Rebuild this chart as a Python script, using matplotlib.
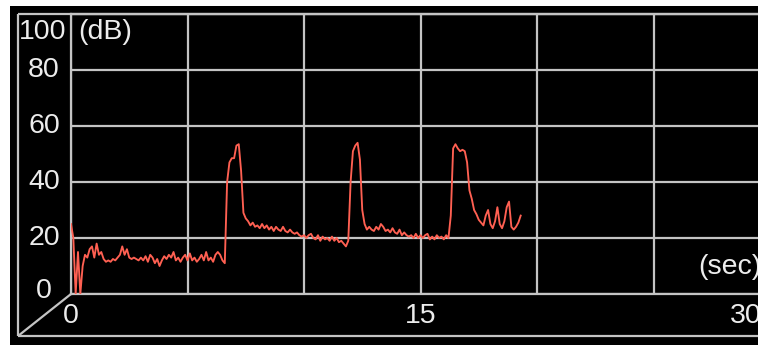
import numpy as np
import matplotlib
matplotlib.use("Agg")
import matplotlib.pyplot as plt
from matplotlib.lines import Line2D
from matplotlib import transforms as mtransforms

# ---- data ----
SAMPLE_PERIOD = 0.1  # seconds between readings
level_db = [
    25, 20, 0, 15, 0, 10, 14, 13, 16, 17, 13, 18, 14, 15, 12.5, 11.5, 12, 11.5, 12.5, 12,
    13, 14, 17, 14, 16, 13, 12.5, 13, 12.5, 12, 13, 12, 13.5, 11.5, 14, 13, 11, 12.5, 10, 12,
    13.5, 12.5, 14, 13, 15, 12, 13, 11.5, 13, 14, 12, 14.5, 12, 13, 11.5, 12.5, 14, 12, 15, 12,
    13, 11.5, 14, 15, 14, 12, 11, 40, 47, 48.5, 48.5, 53, 53.5, 44, 29, 27, 26, 24.5, 25.5, 24,
    24.5, 23.5, 25, 23.5, 24.5, 23, 24, 22.5, 24, 23, 22.5, 24, 22.5, 22, 23, 22, 21.5, 22, 21, 20.5,
    21, 20, 21, 21.5, 20, 19.5, 21, 19, 20.5, 19.5, 20, 19, 20.5, 19, 20, 18.5, 19, 18, 17, 19,
    40, 51, 53, 54, 48, 30, 25, 23, 24, 23, 22.5, 24, 23, 25, 24, 22.5, 23, 22, 23.5, 22,
    21.5, 23, 21, 22, 21, 20.5, 21, 20, 21.5, 20, 21, 20, 21, 21.5, 19.5, 20.5, 19.5, 21, 20, 20.5,
    19.5, 21, 20, 28, 52, 53.5, 52, 51, 51.5, 51, 47, 37, 34, 30, 28.5, 26.5, 25.5, 24.5, 28, 30,
    25, 23.5, 26, 31, 25, 23.5, 26, 31, 33, 24, 23, 24, 25.5, 28,
]
time_s = np.arange(len(level_db)) * SAMPLE_PERIOD

x_grid = [0, 5, 10, 15, 20, 25, 30]
y_ticks = [0, 20, 40, 60, 80, 100]
y_labels = ["0", "20", "40", "60", "80", "100"]
x_ticks = [0, 15, 30]
x_labels = ["0", "15", "30"]

# ---- figure ----
W, H = 758, 349
fig = plt.figure(figsize=(W / 100, H / 100), dpi=100, facecolor="white")

def fx(px):
    return px / W

def fy(py):
    return 1 - py / H

GRID = "#c4c4c4"
TXT = "#ececec"
RED = "#ff6052"
FONT = "Liberation Sans"
FS = 20.5

# black panel
fig.patches.append(plt.Rectangle((fx(10), fy(345)), fx(758) - fx(10), fy(6) - fy(345),
                                 transform=fig.transFigure, facecolor="black",
                                 edgecolor="none", zorder=-5))

ax_left, ax_right, ax_top, ax_bot = 71, 770, 14, 294
ax = fig.add_axes([fx(ax_left), fy(ax_bot), fx(ax_right) - fx(ax_left), fy(ax_top) - fy(ax_bot)])
ax.set_zorder(2)
ax.set_facecolor("none")
ax.set_xlim(0, 30)
ax.set_ylim(0, 100)
ax.set_xticks(x_grid)
ax.set_yticks(y_ticks)
ax.set_xticklabels([])
ax.set_yticklabels([])
ax.tick_params(length=0)
ax.grid(True, color=GRID, lw=1.6)
for side in ["left", "bottom", "top"]:
    ax.spines[side].set_color(GRID)
    ax.spines[side].set_linewidth(1.6)
ax.spines["right"].set_visible(False)

ax.plot(time_s, level_db, color=RED, lw=1.35, zorder=3)

# outer frame (pseudo 3D)
def fline(xs, ys):
    fig.add_artist(Line2D([fx(v) for v in xs], [fy(v) for v in ys],
                          transform=fig.transFigure, color=GRID, lw=1.6,
                          solid_capstyle="butt", zorder=1))

fline([18, 758], [14, 14])
fline([18, 18], [14, 336])
fline([18, 758], [336, 336])
fline([71, 18], [294, 336])

# y tick labels
ytrans = mtransforms.blended_transform_factory(fig.transFigure, ax.transData)
for v, lab in zip(y_ticks, y_labels):
    if v == 100:
        ax.text(fx(43), v, lab, transform=ytrans + mtransforms.ScaledTranslation(0, -5 / 100, fig.dpi_scale_trans),
                ha="center", va="top", color=TXT, fontsize=FS, family=FONT, clip_on=False)
    else:
        off = 0.03 if v == 0 else 0
        ax.text(fx(44), v, lab, transform=ytrans + mtransforms.ScaledTranslation(0, off, fig.dpi_scale_trans),
                ha="center", va="center", color=TXT, fontsize=FS, family=FONT, clip_on=False)

# x tick labels
xtrans = mtransforms.blended_transform_factory(ax.transData, fig.transFigure)
for v, lab in zip(x_ticks, x_labels):
    if v == 30:
        ax.text(v, fy(316), lab, transform=xtrans + mtransforms.ScaledTranslation(-8 / 100, 0, fig.dpi_scale_trans),
                ha="right", va="center", color=TXT, fontsize=FS, family=FONT, clip_on=False)
    else:
        ax.text(v, fy(316), lab, transform=xtrans, ha="center", va="center",
                color=TXT, fontsize=FS, family=FONT, clip_on=False)

# axis unit labels
fig.text(fx(78), fy(32), "(dB)", ha="left", va="center", color=TXT, fontsize=FS, family=FONT, zorder=3)
fig.text(fx(762), fy(267), "(sec)", ha="right", va="center", color=TXT, fontsize=FS, family=FONT, zorder=3)

fig.savefig("out.png", dpi=100, facecolor="white")
